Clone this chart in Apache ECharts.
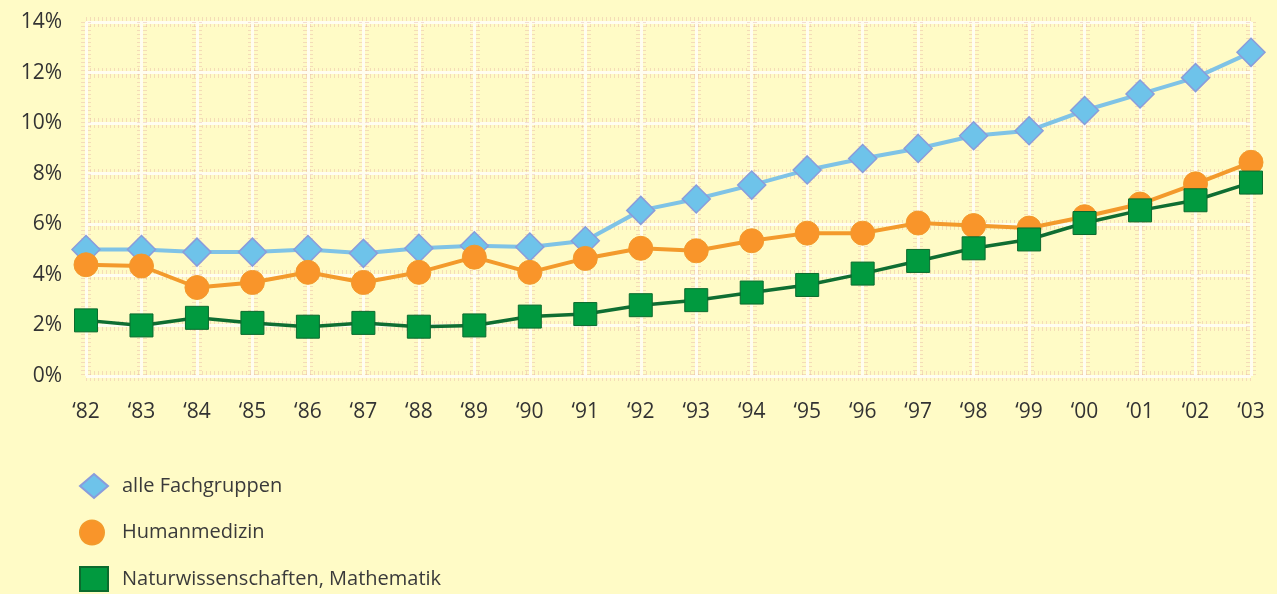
<!DOCTYPE html>
<html>
<head>
<meta charset="utf-8">
<script src="https://cdn.jsdelivr.net/npm/echarts@6/dist/echarts.min.js"></script>
<style>
  html, body { margin: 0; padding: 0; background: #FFFBC6; }
  #chart { width: 1277px; height: 594px; }
</style>
</head>
<body>
<div id="chart"></div>
<script>
// Anteil (%) je Jahrgang, 1982–2003
const years = ['82','83','84','85','86','87','88','89','90','91','92','93','94','95','96','97','98','99','00','01','02','03'];
const yearLabels = years.map(y => '\u2018' + y);

const alleFachgruppen = [5.0, 5.0, 4.9, 4.9, 5.0, 4.85, 5.05, 5.15, 5.1, 5.35, 6.55, 7.0, 7.55, 8.15, 8.6, 9.0, 9.5, 9.7, 10.5, 11.15, 11.8, 12.8];
const humanmedizin   = [4.4, 4.35, 3.5, 3.7, 4.1, 3.7, 4.1, 4.7, 4.1, 4.65, 5.05, 4.95, 5.35, 5.65, 5.65, 6.05, 5.95, 5.85, 6.3, 6.8, 7.6, 8.45];
const naturwiss      = [2.2, 2.0, 2.3, 2.1, 1.95, 2.1, 1.95, 2.0, 2.35, 2.45, 2.8, 3.0, 3.3, 3.6, 4.05, 4.55, 5.05, 5.4, 6.05, 6.55, 6.95, 7.65];

const seriesNames = ['alle Fachgruppen', 'Humanmedizin', 'Naturwissenschaften, Mathematik'];
const legendIcons = ['diamond', 'circle', 'rect'];

const font = 'Open Sans, Noto Sans, sans-serif';
const dotted = { color: 'rgba(225,170,160,0.38)', width: 10, type: [1, 3] };
const chart = echarts.init(document.getElementById('chart'));

// one legend block per entry, stacked below the plot
const legends = seriesNames.map((name, i) => ({
  orient: 'vertical',
  left: 79,
  top: 473 + i * 46.5,
  padding: 0,
  itemWidth: 28,
  itemHeight: 24,
  textStyle: { fontSize: 20, color: '#3a3a3a', fontFamily: font, padding: [0, 0, 0, i === 1 ? 11 : 9] },
  data: [{ name: name, icon: legendIcons[i] }]
}));

chart.setOption({
  backgroundColor: '#FFFBC6',
  animation: false,
  textStyle: { fontFamily: font },
  grid: { left: 86, right: 26, top: 22, bottom: 218, containLabel: false },
  legend: legends,
  xAxis: [
    {
      type: 'category',
      data: yearLabels,
      boundaryGap: false,
      axisLine: { show: false },
      axisTick: { show: false },
      axisLabel: { fontSize: 21, color: '#333', margin: 26, fontFamily: font },
      splitLine: { show: true, lineStyle: dotted },
      z: 1
    },
    {
      type: 'category',
      data: yearLabels,
      boundaryGap: false,
      position: 'bottom',
      axisLine: { show: false },
      axisTick: { show: false },
      axisLabel: { show: false },
      splitLine: { show: true, lineStyle: { color: '#FFFDF0', width: 3 } },
      z: 2
    }
  ],
  yAxis: [
    {
      type: 'value',
      min: 0,
      max: 14,
      interval: 2,
      axisLine: { show: false },
      axisTick: { show: false },
      axisLabel: { fontSize: 21, color: '#333', margin: 24, formatter: '{value}%', fontFamily: font },
      splitLine: { show: true, lineStyle: dotted }
    },
    {
      type: 'value',
      min: 0,
      max: 14,
      interval: 2,
      position: 'left',
      axisLine: { show: false },
      axisTick: { show: false },
      axisLabel: { show: false },
      splitLine: { show: true, lineStyle: { color: '#FFFDF0', width: 3 } }
    }
  ],
  series: [
    {
      name: seriesNames[0],
      type: 'line',
      data: alleFachgruppen,
      symbol: 'diamond',
      symbolSize: 28,
      z: 5,
      lineStyle: { color: '#7FC3E6', width: 4 },
      itemStyle: { color: '#6EC3EA', borderColor: '#8A9CDB', borderWidth: 1.5 }
    },
    {
      name: seriesNames[1],
      type: 'line',
      data: humanmedizin,
      symbol: 'circle',
      symbolSize: 24,
      z: 6,
      lineStyle: { color: '#F39A2C', width: 4 },
      itemStyle: { color: '#F9952A', borderColor: '#F39A2C', borderWidth: 1 }
    },
    {
      name: seriesNames[2],
      type: 'line',
      data: naturwiss,
      symbol: 'rect',
      symbolSize: 23,
      z: 7,
      lineStyle: { color: '#0F6E32', width: 3.5 },
      itemStyle: { color: '#019A3F', borderColor: '#0B6B2E', borderWidth: 1 }
    }
  ]
});
</script>
</body>
</html>
